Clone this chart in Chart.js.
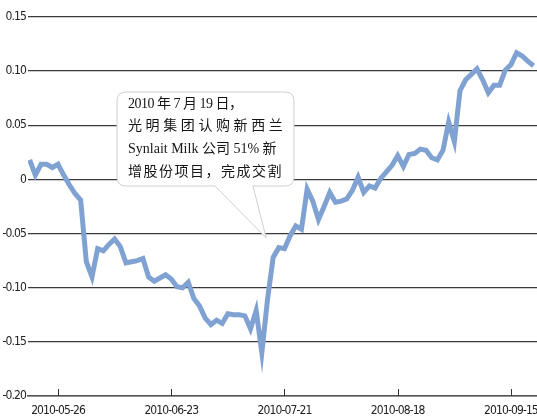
<!DOCTYPE html>
<html>
<head>
<meta charset="utf-8">
<script src="https://cdn.jsdelivr.net/npm/chart.js@4"></script>
<style>
  html, body { margin: 0; padding: 0; background: #fff; }
  #box { width: 537px; height: 417px; }
</style>
</head>
<body>
<div id="box"><canvas id="chart"></canvas></div>
<script>
// trading days (weekdays) 2010-05-19 .. 2010-09-21
const dates = [
  "2010-05-19","2010-05-20","2010-05-21",
  "2010-05-24","2010-05-25","2010-05-26","2010-05-27","2010-05-28",
  "2010-05-31","2010-06-01","2010-06-02","2010-06-03","2010-06-04",
  "2010-06-07","2010-06-08","2010-06-09","2010-06-10","2010-06-11",
  "2010-06-14","2010-06-15","2010-06-16","2010-06-17","2010-06-18",
  "2010-06-21","2010-06-22","2010-06-23","2010-06-24","2010-06-25",
  "2010-06-28","2010-06-29","2010-06-30","2010-07-01","2010-07-02",
  "2010-07-05","2010-07-06","2010-07-07","2010-07-08","2010-07-09",
  "2010-07-12","2010-07-13","2010-07-14","2010-07-15","2010-07-16",
  "2010-07-19","2010-07-20","2010-07-21","2010-07-22","2010-07-23",
  "2010-07-26","2010-07-27","2010-07-28","2010-07-29","2010-07-30",
  "2010-08-02","2010-08-03","2010-08-04","2010-08-05","2010-08-06",
  "2010-08-09","2010-08-10","2010-08-11","2010-08-12","2010-08-13",
  "2010-08-16","2010-08-17","2010-08-18","2010-08-19","2010-08-20",
  "2010-08-23","2010-08-24","2010-08-25","2010-08-26","2010-08-27",
  "2010-08-30","2010-08-31","2010-09-01","2010-09-02","2010-09-03",
  "2010-09-06","2010-09-07","2010-09-08","2010-09-09","2010-09-10",
  "2010-09-13","2010-09-14","2010-09-15","2010-09-16","2010-09-17",
  "2010-09-20","2010-09-21"
];

const excess = [
  0.018, 0.004, 0.014, 0.014, 0.011, 0.014, 0.004, -0.005, -0.013, -0.019,
  -0.076, -0.090, -0.064, -0.066, -0.060, -0.055, -0.062, -0.077, -0.076, -0.075,
  -0.073, -0.090, -0.094, -0.091, -0.088, -0.092, -0.099, -0.100, -0.095, -0.110,
  -0.117, -0.128, -0.134, -0.130, -0.133, -0.124, -0.125, -0.125, -0.126, -0.138,
  -0.121, -0.160, -0.111, -0.072, -0.063, -0.064, -0.052, -0.043, -0.046, -0.009,
  -0.020, -0.037, -0.025, -0.012, -0.021, -0.020, -0.018, -0.010, 0.002, -0.012,
  -0.006, -0.008, 0.001, 0.007, 0.013, 0.022, 0.012, 0.023, 0.024, 0.028,
  0.027, 0.020, 0.018, 0.027, 0.053, 0.035, 0.082, 0.092, 0.097, 0.102,
  0.092, 0.080, 0.087, 0.087, 0.101, 0.106, 0.117, 0.114, 0.109, 0.105
];

const tickDates = ["2010-05-26", "2010-06-23", "2010-07-21", "2010-08-18", "2010-09-15"];

const noteLines = [
  "2010 年 7 月 19 日，",
  "光明集团认购新西兰",
  "Synlait Milk 公司 51% 新",
  "增股份项目，完成交割"
];
const noteSpacing = ["-0.5px", "3.6px", "0px", "1.5px"];
const noteDate = "2010-07-19";

const tickFont = { family: "'DejaVu Sans Condensed', 'DejaVu Sans', sans-serif", style: "condensed", size: 12 };

// squeeze the axis labels a little, the original uses a very narrow face
const narrowText = {
  id: "narrowText",
  beforeDraw(chart) { chart.ctx.letterSpacing = "-0.9px"; },
  afterDraw(chart) { chart.ctx.letterSpacing = "0px"; }
};

// little tick marks pointing up from the bottom axis
const upTicks = {
  id: "upTicks",
  afterDraw(chart) {
    const { ctx, scales: { x }, chartArea } = chart;
    ctx.save();
    ctx.strokeStyle = "#333";
    ctx.lineWidth = 1;
    x.ticks.forEach(t => {
      const px = Math.round(x.getPixelForValue(t.value)) + 0.5;
      ctx.beginPath();
      ctx.moveTo(px, chartArea.bottom);
      ctx.lineTo(px, chartArea.bottom - 7);
      ctx.stroke();
    });
    ctx.restore();
  }
};

// speech bubble
const callout = {
  id: "callout",
  afterDraw(chart) {
    const { ctx, scales: { x, y } } = chart;
    const tipX = x.getPixelForValue(dates.indexOf(noteDate)) - 7;
    const tipY = y.getPixelForValue(-0.054);
    const bx = 117, by = 92, bw = 177, bh = 94, r = 9;
    ctx.save();
    ctx.fillStyle = "#fff";
    ctx.strokeStyle = "#cfcfcf";
    ctx.lineWidth = 1;
    ctx.beginPath();
    ctx.moveTo(bx + r, by);
    ctx.lineTo(bx + bw - r, by);
    ctx.quadraticCurveTo(bx + bw, by, bx + bw, by + r);
    ctx.lineTo(bx + bw, by + bh - r);
    ctx.quadraticCurveTo(bx + bw, by + bh, bx + bw - r, by + bh);
    ctx.lineTo(253, by + bh);
    ctx.lineTo(tipX, tipY);
    ctx.lineTo(215, by + bh);
    ctx.lineTo(bx + r, by + bh);
    ctx.quadraticCurveTo(bx, by + bh, bx, by + bh - r);
    ctx.lineTo(bx, by + r);
    ctx.quadraticCurveTo(bx, by, bx + r, by);
    ctx.closePath();
    ctx.fill();
    ctx.stroke();

    ctx.fillStyle = "#151515";
    ctx.textBaseline = "middle";
    ctx.font = "14px 'Liberation Serif', 'Noto Sans CJK SC', serif";
    noteLines.forEach((line, i) => {
      ctx.letterSpacing = noteSpacing[i];
      ctx.fillText(line, 128, 104 + i * 22.7);
    });
    ctx.restore();
  }
};

new Chart(document.getElementById("chart"), {
  type: "line",
  data: {
    datasets: [{
      data: excess.map((v, i) => ({ x: i, y: v })),
      borderColor: "#7fa2d2",
      borderWidth: 5,
      pointRadius: 0,
      tension: 0,
      fill: false
    }]
  },
  options: {
    responsive: true,
    maintainAspectRatio: false,
    animation: false,
    layout: { padding: { top: 17, right: 0, left: 0, bottom: 0 } },
    plugins: { legend: { display: false }, tooltip: { enabled: false } },
    scales: {
      x: {
        type: "linear",
        min: -0.3,
        max: 89.6,
        afterBuildTicks: s => {
          s.ticks = tickDates.map(d => ({ value: dates.indexOf(d) }));
        },
        afterFit: s => { s.height = 21; s.paddingLeft = 0; s.paddingRight = 0; },
        grid: { display: false },
        border: { display: true, color: "#555", width: 1.5 },
        ticks: {
          autoSkip: false,
          maxRotation: 0,
          padding: 0,
          color: "#222",
          font: tickFont,
          callback: v => dates[v]
        }
      },
      y: {
        min: -0.2,
        max: 0.15,
        afterBuildTicks: s => {
          s.ticks = [0.15, 0.10, 0.05, 0, -0.05, -0.10, -0.15, -0.20].map(v => ({ value: v }));
        },
        afterFit: s => { s.width = 28; },
        border: { display: false },
        grid: { color: "#3a3a3a", lineWidth: 1.3, drawTicks: false },
        ticks: {
          padding: 2,
          color: "#222",
          font: tickFont,
          callback: v => v === 0 ? "0" : v.toFixed(2)
        }
      }
    }
  },
  plugins: [narrowText, upTicks, callout]
});
</script>
</body>
</html>
